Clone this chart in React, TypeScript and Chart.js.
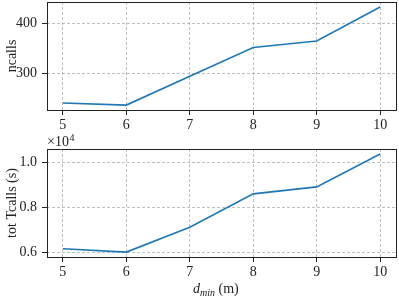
import React, { useEffect, useRef } from 'react';
import { Chart, registerables } from 'chart.js';
Chart.register(...registerables);

const dMin = [5, 6, 7, 8, 9, 10];
const ncalls = [241.5, 237.5, 295, 352, 365, 432.5];
const totTcalls = [6164, 6018, 7120, 8597, 8907, 10367];
const xTicks = [5, 6, 7, 8, 9, 10];
const ncallsTicks = [300, 400];
const tcallsTicks = [6000, 8000, 10000];

const FONT = '"Liberation Serif", "Times New Roman", serif';
const TEXT = '#222';
const GRID = '#b0b0b0';
const LINE = '#1f77b4';

function makeConfig(opts: any): any {
  const { values, yTicks, yMin, yMax, pad, xHeight, fmt, draw } = opts;
  return {
    type: 'line',
    data: {
      datasets: [
        {
          data: dMin.map((x, i) => ({ x, y: values[i] })),
          borderColor: LINE,
          borderWidth: 1.6,
          pointRadius: 0,
          fill: false,
          tension: 0,
        },
      ],
    },
    options: {
      animation: false,
      responsive: false,
      devicePixelRatio: 1,
      layout: { padding: pad },
      plugins: { legend: { display: false }, tooltip: { enabled: false } },
      scales: {
        x: {
          type: 'linear',
          min: 4.75,
          max: 10.25,
          afterBuildTicks: (s: any) => {
            s.ticks = xTicks.map((v) => ({ value: v }));
          },
          afterFit: (s: any) => {
            s.height = xHeight;
            s.paddingLeft = 0;
            s.paddingRight = 0;
          },
          ticks: {
            font: { family: FONT, size: 14 },
            color: TEXT,
            padding: 2,
            maxRotation: 0,
            autoSkip: false,
            callback: (v: any) => String(v),
          },
          grid: {
            color: GRID,
            lineWidth: 0.8,
            tickLength: 5,
            tickColor: TEXT,
            tickWidth: 1,
            tickBorderDash: [],
          },
          border: { display: false, dash: [3, 2] },
        },
        y: {
          type: 'linear',
          min: yMin,
          max: yMax,
          afterBuildTicks: (s: any) => {
            s.ticks = yTicks.map((v: number) => ({ value: v }));
          },
          afterFit: (s: any) => {
            s.width = 47;
            s.paddingTop = 0;
            s.paddingBottom = 0;
          },
          ticks: {
            font: { family: FONT, size: 14 },
            color: TEXT,
            padding: 5,
            autoSkip: false,
            callback: fmt,
          },
          grid: {
            color: GRID,
            lineWidth: 0.8,
            tickLength: 5,
            tickColor: TEXT,
            tickWidth: 1,
            tickBorderDash: [],
          },
          border: { display: false, dash: [3, 2] },
        },
      },
    },
    plugins: [
      {
        id: 'box',
        afterDraw: (chart: any) => {
          const ctx = chart.ctx;
          const a = chart.chartArea;
          ctx.save();
          ctx.strokeStyle = '#222';
          ctx.lineWidth = 1;
          ctx.setLineDash([]);
          ctx.strokeRect(Math.round(a.left) + 0.5, Math.round(a.top) + 0.5, Math.round(a.right - a.left), Math.round(a.bottom - a.top));
          ctx.fillStyle = TEXT;
          draw(ctx, a);
          ctx.restore();
        },
      },
    ],
  };
}

function drawRotated(ctx: any, text: string, x: number, y: number) {
  ctx.save();
  ctx.translate(x, y);
  ctx.rotate(-Math.PI / 2);
  ctx.font = `14px ${FONT}`;
  ctx.textAlign = 'center';
  ctx.textBaseline = 'middle';
  ctx.fillText(text, 0, 0);
  ctx.restore();
}

function ChartCanvas({ config, top, height }: any) {
  const ref = useRef<HTMLCanvasElement>(null);
  useEffect(() => {
    const c = new Chart(ref.current as HTMLCanvasElement, config);
    return () => c.destroy();
  }, []);
  return (
    <canvas
      ref={ref}
      width={399}
      height={height}
      style={{ position: 'absolute', left: 0, top, width: 399, height }}
    />
  );
}

const topConfig = makeConfig({
  values: ncalls,
  yTicks: ncallsTicks,
  yMin: 227.7,
  yMax: 442.5,
  pad: { left: 0, right: 3, top: 2, bottom: 0 },
  xHeight: 132 - 110,
  fmt: (v: any) => String(v),
  draw: (ctx: any) => {
    drawRotated(ctx, 'ncalls', 12, 56);
  },
});

const bottomConfig = makeConfig({
  values: totTcalls,
  yTicks: tcallsTicks,
  yMin: 5800,
  yMax: 10585,
  pad: { left: 0, right: 3, top: 17, bottom: 0 },
  xHeight: 167 - 125,
  fmt: (v: any) => (v / 10000).toFixed(1),
  draw: (ctx: any) => {
    drawRotated(ctx, 'tot Tcalls (s)', 12, 71);
    ctx.textAlign = 'left';
    ctx.textBaseline = 'alphabetic';
    ctx.font = `14px ${FONT}`;
    ctx.fillText('\u00d710', 47, 14);
    const w1 = ctx.measureText('\u00d710').width;
    ctx.font = `10px ${FONT}`;
    ctx.fillText('4', 47 + w1 + 0.5, 9);
    let x = 193;
    const base = 161;
    ctx.font = `italic 14px ${FONT}`;
    ctx.fillText('d', x, base);
    x += ctx.measureText('d').width;
    ctx.font = `italic 10px ${FONT}`;
    ctx.fillText('min', x, base + 3);
    x += ctx.measureText('min').width;
    ctx.font = `14px ${FONT}`;
    ctx.fillText(' (m)', x, base);
  },
});

export default function App() {
  return (
    <div style={{ position: 'fixed', left: 0, top: 0, width: 399, height: 299, background: '#fff' }}>
      <ChartCanvas config={topConfig} top={0} height={132} />
      <ChartCanvas config={bottomConfig} top={132} height={167} />
    </div>
  );
}
